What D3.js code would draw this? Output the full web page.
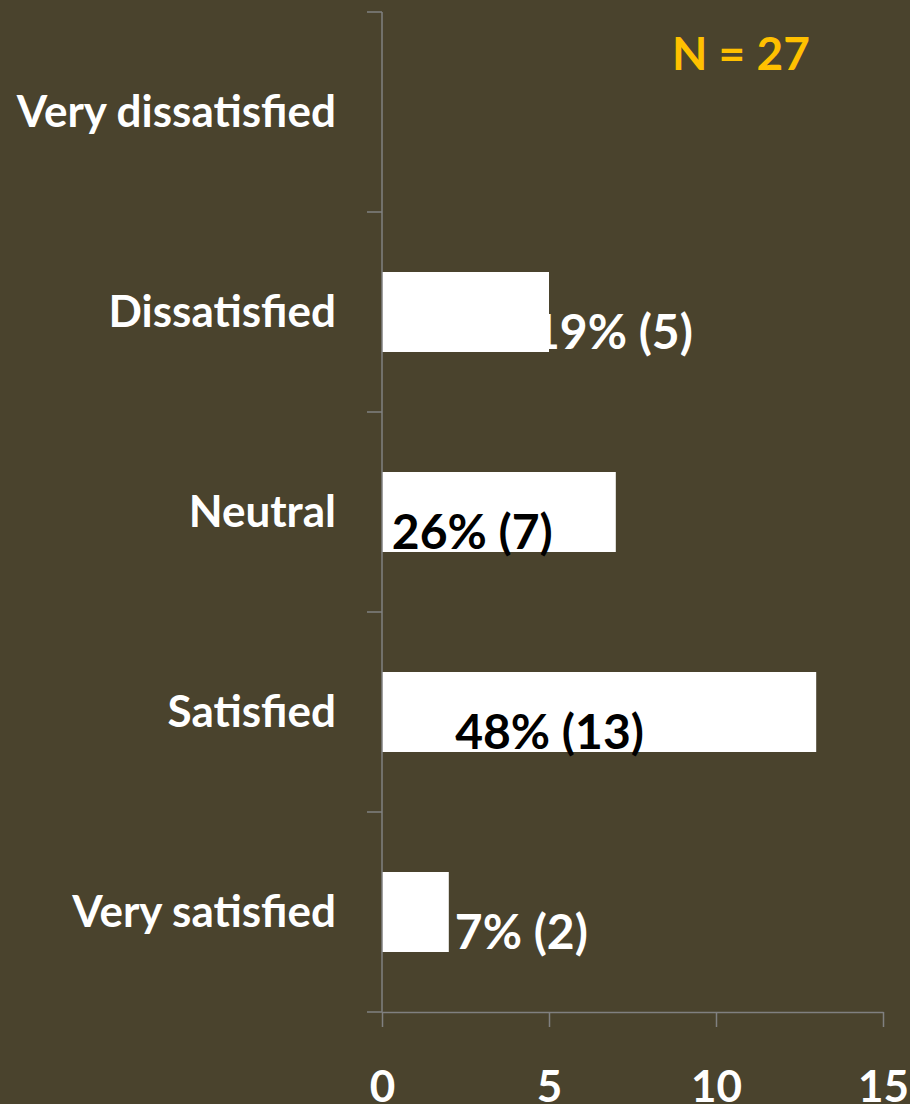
<!DOCTYPE html>
<html>
<head>
<meta charset="utf-8">
<script src="https://cdn.jsdelivr.net/npm/d3@7"></script>
<style>
  html, body { margin: 0; padding: 0; background: #4a432d; }
  svg { display: block; }
  text { font-family: Lato, "Open Sans", sans-serif; font-weight: bold; }
</style>
</head>
<body>
<svg id="chart" width="910" height="1104"></svg>
<script>
// Survey responses (N = 27)
const categories = ["Very dissatisfied", "Dissatisfied", "Neutral", "Satisfied", "Very satisfied"];
const counts = [0, 5, 7, 13, 2];
const percents = ["0%", "19%", "26%", "48%", "7%"];
const xTicks = [0, 5, 10, 15];
const sampleLabel = "N = 27";

const W = 910, H = 1104;
const svg = d3.select("#chart");
svg.append("rect").attr("width", W).attr("height", H).attr("fill", "#4a432d");

const axisColor = "#808080";
const x = d3.scaleLinear().domain([0, 15]).range([382, 883]);
const y = d3.scaleBand().domain(categories).range([12, 1012])
  .paddingInner(0.6).paddingOuter(0.3);

// Bars
svg.append("g").selectAll("rect")
  .data(categories.map((c, i) => ({ c, v: counts[i] })))
  .join("rect")
  .attr("x", x(0))
  .attr("y", d => y(d.c))
  .attr("width", d => x(d.v) - x(0))
  .attr("height", y.bandwidth())
  .attr("fill", "#ffffff");

// Vertical category axis with ticks at band boundaries
const yAxis = svg.append("g");
const [y0, y1] = y.range();
yAxis.append("line").attr("x1", x(0)).attr("x2", x(0)).attr("y1", y0).attr("y2", y1)
  .attr("stroke", axisColor).attr("stroke-width", 1.5);
yAxis.selectAll("line.tick")
  .data(d3.range(categories.length + 1))
  .join("line").attr("class", "tick")
  .attr("x1", x(0) - 15).attr("x2", x(0))
  .attr("y1", i => y0 + i * y.step()).attr("y2", i => y0 + i * y.step())
  .attr("stroke", axisColor).attr("stroke-width", 1.5);
yAxis.selectAll("text")
  .data(categories)
  .join("text")
  .attr("x", 336)
  .attr("y", c => y(c) + y.bandwidth() / 2 + 15)
  .attr("text-anchor", "end")
  .attr("fill", "#ffffff")
  .attr("font-size", 44)
  .text(c => c);

// Horizontal value axis
const xAxis = svg.append("g").attr("transform", `translate(0,${y1})`)
  .call(d3.axisBottom(x).tickValues(xTicks).tickSize(15).tickSizeOuter(0));
xAxis.select(".domain").attr("stroke", axisColor).attr("stroke-width", 1.5);
xAxis.selectAll(".tick line").attr("stroke", axisColor).attr("stroke-width", 1.5);
xAxis.selectAll(".tick text")
  .attr("y", 90).attr("dy", null)
  .attr("fill", "#ffffff")
  .attr("font-size", 44)
  .attr("font-family", "Lato, 'Open Sans', sans-serif")
  .attr("font-weight", "bold");

// Value labels: placement relative to each bar's end
const labelPlacement = {
  "Dissatisfied": { dx: -17, color: "#ffffff" },
  "Neutral": { dx: -224, color: "#000000" },
  "Satisfied": { dx: -361, color: "#000000" },
  "Very satisfied": { dx: 6, color: "#ffffff" }
};
svg.append("g").selectAll("text")
  .data(categories.map((c, i) => ({ c, v: counts[i], p: percents[i] })).filter(d => d.v > 0))
  .join("text")
  .attr("x", d => x(d.v) + labelPlacement[d.c].dx)
  .attr("y", d => y(d.c) + y.bandwidth() - 3)
  .attr("fill", d => labelPlacement[d.c].color)
  .attr("font-size", 48)
  .text(d => `${d.p} (${d.v})`);

// Sample size
svg.append("text")
  .attr("x", 672).attr("y", 70)
  .attr("fill", "#ffc000")
  .attr("font-size", 46)
  .text(sampleLabel);
</script>
</body>
</html>
